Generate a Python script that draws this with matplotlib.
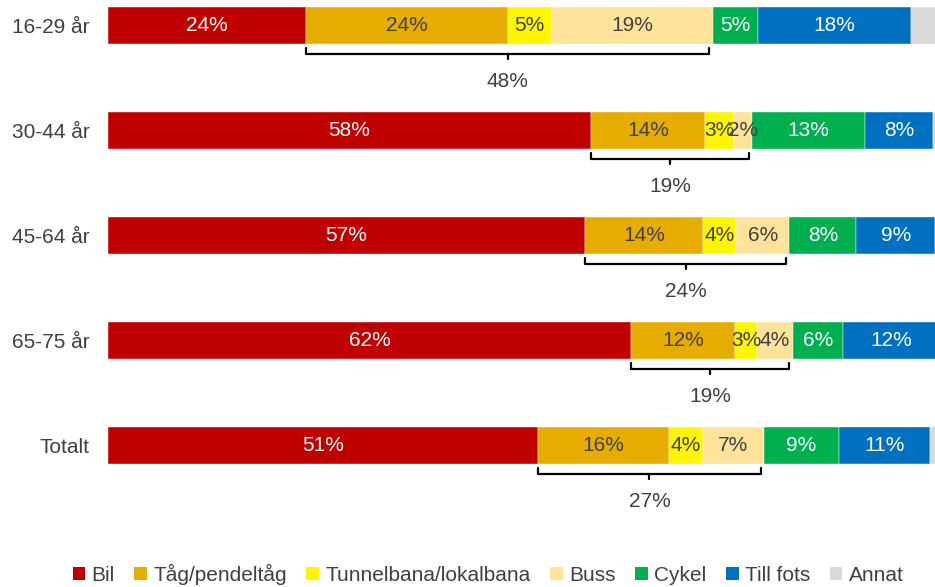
import numpy as np
import matplotlib
matplotlib.use('Agg')
import matplotlib.pyplot as plt
from matplotlib.patches import Patch

plt.rcParams['font.family'] = ['Liberation Sans', 'DejaVu Sans']

# ── Data ──────────────────────────────────────────────────────────────────────
categories = ["16-29 år", "30-44 år", "45-64 år", "65-75 år", "Totalt"]
series_names = ["Bil", "Tåg/pendeltåg", "Tunnelbana/lokalbana", "Buss",
                "Cykel", "Till fots", "Annat"]
bil       = [23.6, 57.5, 56.8, 62.3, 51.2]
tag       = [24.0, 13.6, 14.0, 12.3, 15.6]
tunnel    = [5.2, 3.4, 4.0, 2.7, 4.0]
buss      = [19.2, 2.2, 6.3, 4.2, 7.3]
cykel     = [5.4, 13.4, 8.0, 6.0, 8.9]
till_fots = [18.2, 8.1, 9.4, 11.6, 10.8]
annat     = [4.4, 1.8, 1.5, 0.9, 2.2]

# ── Style ─────────────────────────────────────────────────────────────────────
colors = ["#C00000", "#E6AD00", "#FFF500", "#FFE39A", "#00B050", "#0070C0", "#D9D9D9"]
text_cols = ["white", "#404040", "#404040", "#404040", "white", "white", None]
DARK = "#404040"
FS = 15

W, H = 935, 587
fig = plt.figure(figsize=(W / 100, H / 100), dpi=100)
ax = fig.add_axes([108 / W, 1 - 525 / H, 1 - 108 / W, 525 / H])

series = [bil, tag, tunnel, buss, cykel, till_fots, annat]
y = np.arange(len(categories))
bar_h = 37 / 105
left = np.zeros(len(categories))
for vals, col, tcol in zip(series, colors, text_cols):
    vals = np.array(vals)
    ax.barh(y, vals, left=left, height=bar_h, color=col, edgecolor='white',
            linewidth=0.3)
    if tcol is not None:
        for yi, l, v in zip(y, left, vals):
            ax.text(l + v / 2, yi, f"{v:.0f}%", ha='center', va='center',
                    color=tcol, fontsize=FS)
    left += vals

# ── Brackets: public transport (Tåg + Tunnelbana + Buss) ─────────────────────
for yi in y:
    x0 = bil[yi]
    pt = tag[yi] + tunnel[yi] + buss[yi]
    x1 = x0 + pt - 0.4
    xm = (x0 + x1) / 2
    yl = yi + 0.267
    ax.plot([x0, x0, x1, x1], [yl - 0.05, yl, yl, yl - 0.05], color='black',
            lw=1.6, solid_joinstyle='round', solid_capstyle='round')
    ax.plot([xm, xm], [yl, yl + 0.05], color='black', lw=1.6,
            solid_capstyle='round')
    ax.text(xm, yi + 0.533, f"{pt:.0f}%", ha='center', va='center',
            color=DARK, fontsize=FS)

ax.set_xlim(0, (W - 108) / 8.4)
ax.set_ylim(4 + (525 - 445.5) / 105, -25.5 / 105)
ax.set_yticks(y)
ax.set_yticklabels(categories, fontsize=FS, color=DARK)
ax.tick_params(axis='y', length=0, pad=13)
ax.set_xticks([])
for s in ax.spines.values():
    s.set_visible(False)

handles = [Patch(facecolor=c, edgecolor='none') for c in colors]
fig.legend(handles, series_names, loc='center', bbox_to_anchor=(488 / W, 1 - 574 / H),
           ncol=7, frameon=False, fontsize=FS, labelcolor=DARK,
           handlelength=0.6, handleheight=0.6, handletextpad=0.3,
           columnspacing=0.95, borderaxespad=0)

fig.savefig("out.png", dpi=100)
